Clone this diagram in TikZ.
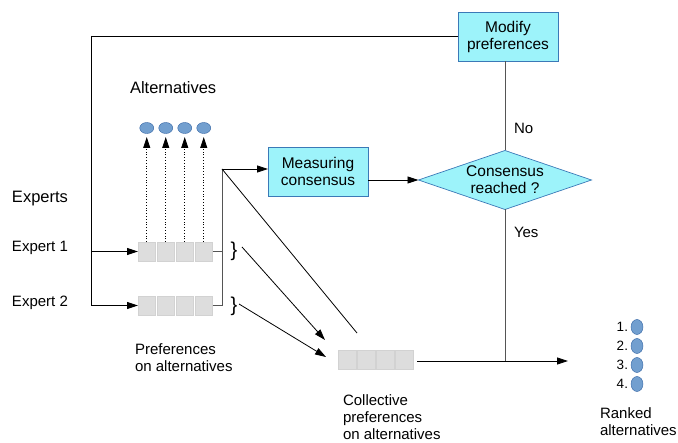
\documentclass[tikz,border=0pt]{standalone}
\usepackage{fontspec}
\setmainfont{Liberation Sans}
\usetikzlibrary{shapes.geometric,arrows.meta}
\definecolor{boxfill}{HTML}{9DF3FA}
\definecolor{boxline}{HTML}{3B79B7}
\definecolor{altfill}{HTML}{729FCF}
\definecolor{altline}{HTML}{3465A4}
\definecolor{cellfill}{HTML}{DDDDDD}
\definecolor{cellline}{HTML}{D2D2D2}
\definecolor{darkline}{HTML}{555555}
\begin{document}
\begin{tikzpicture}[x=1pt,y=-1pt,
  every node/.style={inner sep=0pt, outer sep=0pt},
  txt/.style={font=\fontsize{15}{17}\selectfont, align=left},
  title/.style={font=\fontsize{16.5}{19}\selectfont},
  procbox/.style={draw=boxline, fill=boxfill, line width=0.7pt, minimum width=100pt, minimum height=49pt, align=center, font=\fontsize{15.5}{17}\selectfont},
  decision/.style={draw=boxline, fill=boxfill, line width=0.7pt, shape=diamond, aspect=2.93, minimum width=173pt, minimum height=59pt, align=center, font=\fontsize{15.5}{17}\selectfont},
  cell/.style={draw=cellline, fill=cellfill, line width=0.5pt, minimum width=17.5pt, minimum height=19pt},
  alt/.style={draw=altline, fill=altfill, line width=0.4pt, ellipse, minimum width=14pt, minimum height=11pt},
  rank/.style={draw=altline, fill=altfill, line width=0.4pt, ellipse, minimum width=12pt, minimum height=15pt},
  num/.style={font=\fontsize{13.5}{15}\selectfont, anchor=east},
  brace/.style={font=\fontsize{20}{22}\selectfont},
  conn/.style={line width=0.8pt, black},
  arr/.style={conn, -{Triangle[length=11pt,width=7pt]}},
  dotarr/.style={line width=0.8pt, dotted, -{Triangle[length=11pt,width=7pt]}, shorten >=3.5pt}
]
\useasboundingbox (0,0) rectangle (678,443);

% process boxes
\node[procbox] (modify) at (508,37) {Modify\\preferences};
\node[procbox] (measure) at (318,171.5) {Measuring\\consensus};
\node[decision] (dia) at (505,180) {Consensus\\reached ?};

% labels
\node[title, anchor=west] (lalt) at (130,88) {Alternatives};
\node[title, anchor=west] (lexp) at (12,199) {Experts};
\node[txt, anchor=west] (le1) at (12,248) {Expert 1};
\node[txt, anchor=west] (le2) at (12,303) {Expert 2};
\node[txt, anchor=west] (lpref) at (135,357.5) {Preferences\\on alternatives};
\node[txt, anchor=west] (lcoll) at (343,417.5) {Collective\\preferences\\on alternatives};
\node[txt, anchor=west] (lrank) at (600,421.5) {Ranked\\alternatives};
\node[txt, anchor=west] (lno) at (514,128) {No};
\node[txt, anchor=west] (lyes) at (514,232) {Yes};

% alternatives and preference rows
\foreach \i in {1,...,4} {
  \node[alt] (a\i) at ({146.75+(\i-1)*19},128) {};
  \node[cell] (p\i) at ({146.75+(\i-1)*19},251.5) {};
  \node[cell] (q\i) at ({146.75+(\i-1)*19},305.5) {};
  \node[cell] (c\i) at ({347+(\i-1)*19},360) {};
  \draw[dotarr] (p\i.north) -- (a\i.south);
}

% braces
\node[brace] (b1) at (234,251) {\}};
\node[brace] (b2) at (234,306) {\}};

% ranked alternatives
\foreach \i in {1,...,4} {
  \node[rank] (r\i) at (637,{327+(\i-1)*19}) {};
  \node[num] (n\i) at (628,{327+(\i-1)*19}) {\i.};
}

% feedback loop to the experts
\coordinate (tl) at (91,36);
\draw[conn] (modify.west |- tl) -- (tl);
\draw[arr] (tl) |- (q1.west);
\draw[arr] (tl |- p1.west) -- (p1.west);

% preferences to the measuring step
\coordinate (j) at (222,169);
\draw[darkline, line width=1pt] (p4.east) -- (p4.east -| j);
\draw[darkline, line width=1pt] (q4.east) -- (q4.east -| j) -- (j);
\draw[arr] (j) -- (measure.west |- j);
\coordinate (dend) at (357,333);
\draw[conn] (j) -- (dend);

% aggregation arrows
\coordinate (t1) at (325,340);
\coordinate (t2) at (326,357);
\draw[arr] (242,247) coordinate (s1) -- (t1);
\draw[arr] (239,304) coordinate (s2) -- (t2);

% consensus decision
\draw[arr] (measure.east |- dia.west) -- (dia.west);
\draw[darkline, line width=1pt] (dia.north) -- (dia.north |- modify.south);
\coordinate (rk) at (568,361);
\coordinate (cs) at (417,361);
\draw[arr] (cs) -- (rk);
\draw[darkline, line width=1pt] (dia.south) -- (dia.south |- cs);
\end{tikzpicture}
\end{document}
